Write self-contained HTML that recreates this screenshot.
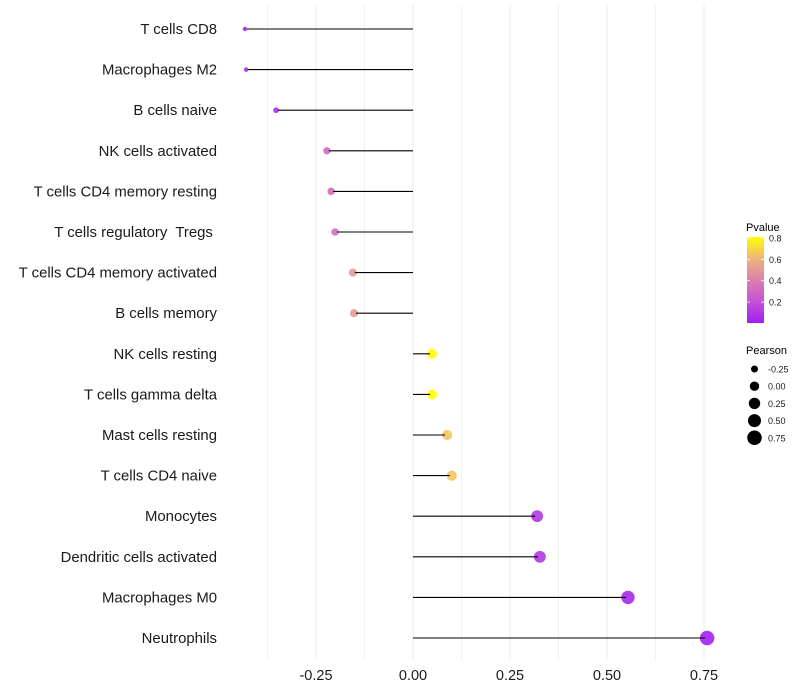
<!DOCTYPE html>
<html><head><meta charset="utf-8">
<style>body{margin:0;background:#fff}svg{display:block;font-family:"Liberation Sans",Arial,sans-serif}text{white-space:pre}</style>
</head><body>
<svg id="chart" width="800" height="700" viewBox="0 0 800 700">
<defs>
<linearGradient id="pg" x1="0" y1="1" x2="0" y2="0">
<stop offset="0" stop-color="#a020f0"/>
<stop offset="0.25" stop-color="#c452d6"/>
<stop offset="0.5" stop-color="#dc80ac"/>
<stop offset="0.75" stop-color="#efb47e"/>
<stop offset="1" stop-color="#ffff00"/>
</linearGradient>
</defs>
<g id="grid"></g>
<g id="marks"></g>
<g id="ylabels"></g>
<g id="xlabels"></g>
<g>
<text x="746" y="231" font-size="11">Pvalue</text>
<rect x="747" y="237" width="17" height="86" fill="url(#pg)"/>
<g id="cbticks"></g>
</g>
<g>
<text x="746" y="354" font-size="11">Pearson</text>
<g id="sizeleg"></g>
</g>
</svg>
<script>
const categories=["T cells CD8","Macrophages M2","B cells naive","NK cells activated","T cells CD4 memory resting","T cells regulatory  Tregs ","T cells CD4 memory activated","B cells memory","NK cells resting","T cells gamma delta","Mast cells resting","T cells CD4 naive","Monocytes","Dendritic cells activated","Macrophages M0","Neutrophils"];
const pearson=[-0.433,-0.430,-0.353,-0.222,-0.211,-0.201,-0.155,-0.152,0.049,0.049,0.088,0.10,0.32,0.327,0.554,0.758];
const pvalue=[0.02,0.02,0.05,0.30,0.32,0.33,0.50,0.50,0.80,0.80,0.65,0.65,0.10,0.10,0.03,0.01];
const xTicks=[-0.25,0,0.25,0.5,0.75];
const xTickLabels=["-0.25","0.00","0.25","0.50","0.75"];
const cbTicks=[0.2,0.4,0.6,0.8];
const sizeLegend=[-0.25,0,0.25,0.5,0.75];
const sizeLegendLabels=["-0.25","0.00","0.25","0.50","0.75"];

const NS="http://www.w3.org/2000/svg";
const X=v=>413+v*388;
const Y=i=>29+i*40.6;
const R=v=>Math.sqrt(Math.max(1,22.4+40.5*v));
const CB=p=>323.5-p*107;
function lerp(a,b,t){return a+(b-a)*t}
const stops=[[0,[160,32,240]],[0.25,[196,82,214]],[0.5,[220,128,172]],[0.75,[239,180,126]],[1,[255,255,0]]];
function color(p){let t=Math.min(1,Math.max(0,p/0.8));for(let k=0;k<stops.length-1;k++){const[a,ca]=stops[k],[b,cb]=stops[k+1];if(t<=b){const u=(t-a)/(b-a);return`rgb(${ca.map((c,j)=>Math.round(lerp(c,cb[j],u))).join(",")})`;}}return"rgb(255,255,0)";}
function mk(tag,attrs,parent){const e=document.createElementNS(NS,tag);for(const k in attrs)e.setAttribute(k,attrs[k]);parent.appendChild(e);return e;}
const grid=document.getElementById("grid"),marks=document.getElementById("marks"),yl=document.getElementById("ylabels"),xl=document.getElementById("xlabels");
for(let k=-3;k<=6;k++){
  const v=k*0.125;
  const g=mk("line",{x1:X(v),x2:X(v),y1:5,y2:660,stroke:k%2===0?"#ebebeb":"#f2f2f2","stroke-width":1},grid);
  
  
}
xTicks.forEach((v,i)=>{
  const t=mk("text",{x:X(v),y:680,"font-size":14.5,"text-anchor":"middle",fill:"#1a1a1a"},xl);
  t.textContent=xTickLabels[i];
  
  
});
categories.forEach((c,i)=>{
  const t=mk("text",{x:217,y:Y(i)+5,"font-size":14.9,"text-anchor":"end",fill:"#1a1a1a"},yl);
  t.textContent=c;
  
  
  const pt=mk("circle",{cx:X(pearson[i]),cy:Y(i),r:R(pearson[i]),fill:color(pvalue[i]),"fill-opacity":0.9},marks);
  
  
  const ln=mk("line",{x1:X(0),x2:X(pearson[i])-(pearson[i]>0?2:-2),y1:Y(i),y2:Y(i),stroke:"#000","stroke-width":1.1},marks);
  
  
});
const cbt=document.getElementById("cbticks");
cbTicks.forEach(p=>{
  mk("line",{x1:747,x2:750,y1:CB(p),y2:CB(p),stroke:"#fff","stroke-width":0.8},cbt);
  mk("line",{x1:761,x2:764,y1:CB(p),y2:CB(p),stroke:"#fff","stroke-width":0.8},cbt);
  const t=mk("text",{x:769,y:CB(p)+3.5,"font-size":9,fill:"#1a1a1a"},cbt);
  t.textContent=p.toFixed(1);
  
  
});
const sl=document.getElementById("sizeleg");
sizeLegend.forEach((v,i)=>{
  const y=369+i*17.2;
  const c=mk("circle",{cx:754.5,cy:y,r:R(v),fill:"#000"},sl);
  
  
  const t=mk("text",{x:768,y:y+3.5,"font-size":9,fill:"#1a1a1a"},sl);
  t.textContent=sizeLegendLabels[i];
  
  
});
</script>
</body></html>
